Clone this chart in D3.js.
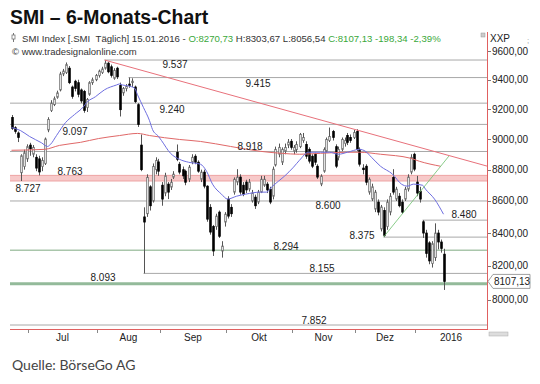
<!DOCTYPE html>
<html>
<head>
<meta charset="utf-8">
<script src="https://cdnjs.cloudflare.com/ajax/libs/d3/7.8.5/d3.min.js"></script>
<style>
body { margin:0; background:#fff; }
svg { font-family: Arial, "Liberation Sans", sans-serif; }
</style>
</head>
<body>
<svg width="540" height="384"></svg>
<script>
// daily SMI candles 23.06.2015 - 15.01.2016 (index 0..144)
var opens = [9143,9075,9040,8780,8820,8870,8960,8900,8880,8870,8820,8840,9060,9190,9230,9280,9330,9440,9450,9480,
  9350,9390,9380,9330,9320,9210,9300,9380,9400,9430,9450,9480,9515,9490,9410,9480,9360,9310,9340,9370,
  9380,9350,9230,8960,8500,8520,8690,8600,8800,8850,8700,8650,8707,8688,8752,8913,8835,8800,8790,8738,
  8848,8887,8848,8738,8784,8694,8560,8440,8440,8530,8290,8468,8612,8560,8656,8720,8752,8700,8720,8675,
  8600,8624,8593,8656,8700,8707,8675,8630,8830,8900,8848,8920,8960,8985,8920,8930,8950,8990,8964,8932,
  8887,8900,8822,8707,8790,8920,8990,9050,8950,8880,8932,8970,9023,9010,9010,9050,8932,8810,8822,8656,
  8612,8549,8593,8425,8540,8440,8530,8750,8612,8630,8593,8612,8675,8784,8900,8720,8660,8470,8400,8340,
  8215,8250,8400,8345,8270.73]
var highs = [9160,9085,9050,8900,8930,8965,8975,8960,8900,8890,8880,9010,9145,9260,9285,9325,9455,9475,9520,9495,
  9360,9400,9400,9340,9330,9275,9390,9415,9440,9470,9490,9537,9525,9505,9480,9490,9380,9350,9370,9415,
  9410,9360,9240,9030,8560,8770,8700,8840,8880,8870,8720,8780,8720,8740,8790,8964,8850,8820,8800,8830,
  8900,8900,8860,8800,8800,8700,8580,8450,8520,8540,8350,8530,8630,8580,8750,8803,8770,8720,8735,8740,
  8670,8640,8670,8760,8760,8720,8690,8820,8950,8970,8945,8970,9000,9000,8960,8985,9040,9040,8985,8945,
  8900,8910,8835,8770,8945,9010,9076,9060,8965,8950,9010,9010,9040,9030,9060,9065,8945,8835,8835,8750,
  8710,8670,8610,8575,8560,8610,8650,8803,8690,8650,8610,8690,8770,8900,8910,8760,8690,8480,8420,8350,
  8350,8460,8420,8360,8303.67]
var lows = [9060,9035,8980,8727,8800,8850,8890,8880,8790,8763,8790,8830,9045,9180,9220,9270,9320,9425,9440,9370,
  9270,9320,9280,9240,9175,9180,9290,9365,9390,9415,9440,9470,9445,9415,9400,9405,9150,9290,9320,9345,
  9350,9240,9080,8790,8155,8500,8540,8590,8770,8760,8570,8630,8612,8670,8740,8855,8770,8740,8700,8720,
  8835,8835,8780,8720,8680,8470,8390,8260,8420,8370,8250,8440,8490,8500,8640,8700,8640,8630,8650,8660,
  8590,8550,8580,8650,8690,8650,8580,8610,8820,8880,8830,8900,8940,8930,8900,8910,8940,8975,8870,8840,
  8810,8830,8740,8694,8780,8910,8980,8990,8810,8860,8920,8950,8960,8975,9000,8920,8820,8770,8700,8640,
  8600,8530,8510,8410,8375,8420,8510,8640,8600,8560,8520,8600,8660,8770,8790,8630,8590,8370,8250,8210,
  8190,8230,8300,8280,8056.54]
var closes = [9070,9050,9010,8890,8910,8950,8935,8945,8810,8785,8860,9000,9130,9240,9270,9310,9440,9460,9505,9380,
  9285,9340,9300,9255,9190,9265,9380,9400,9430,9460,9475,9515,9455,9430,9465,9420,9196,9340,9355,9360,
  9390,9250,9096,8800,8468,8750,8570,8820,8860,8790,8612,8760,8656,8719,8771,8867,8784,8760,8719,8816,
  8880,8848,8790,8784,8694,8486,8406,8290,8505,8380,8320,8517,8505,8520,8738,8752,8656,8643,8670,8720,
  8650,8570,8656,8738,8738,8670,8593,8803,8932,8945,8932,8945,8980,8945,8945,8964,9030,9010,8887,8855,
  8822,8848,8752,8758,8932,8997,9017,9010,8822,8932,8997,8990,8978,8990,9043,8932,8835,8800,8719,8738,
  8690,8656,8530,8562,8385,8593,8630,8656,8675,8570,8530,8675,8752,8880,8803,8650,8612,8400,8275,8230,
  8335,8400,8345,8305.47,8107.13]

// x axis: first trading day of each month
var monthLabels = ["Jul", "Aug", "Sep", "Okt", "Nov", "Dez", "2016"]
var monthStart = [6, 29, 50, 72, 94, 115, 135]
var yTicks = [8000, 8200, 8400, 8600, 8800, 9000, 9200, 9400, 9600]

// moving averages [index, value]
var maShort = [[0,9076],[3,9056],[6,9017],[10,8975],[12,8951],[13,8965],[15,9023],[18,9109],[21,9163],[24,9216],
  [25,9243],[28,9284],[31,9331],[35,9364],[36,9371],[37,9364],[39,9357],[41,9343],[42,9297],[44,9210],
  [46,9122],[47,9063],[49,9017],[50,8990],[53,8906],[56,8867],[59,8848],[63,8835],[65,8790],[67,8707],
  [70,8643],[72,8612],[75,8630],[78,8643],[83,8656],[85,8656],[87,8694],[91,8758],[94,8816],[96,8861],
  [99,8913],[103,8913],[106,8913],[109,8900],[112,8913],[116,8932],[118,8919],[120,8880],[123,8822],[127,8771],
  [130,8707],[132,8694],[134,8707],[137,8700],[138,8675],[141,8612],[144,8517]]
var maLong = [[0,8926],[11,8932],[16,8958],[23,8978],[29,9003],[36,9023],[42,9037],[46,9023],[56,8997],[63,8984],
  [73,8951],[83,8919],[90,8906],[96,8900],[103,8906],[112,8913],[116,8913],[123,8900],[133,8874],[136,8854],[143,8822]]

// support / resistance lines
var levels = [9537, 9415, 9240, 9097, 8918, 8600, 8480, 8375, 8294, 8155, 8093, 7852]
var levelFrom = [31, 39, -0.5, -0.5, -0.5, -0.5, 137, 124, -0.5, 44, -0.5, -0.5]
var levelText = ["9.537", "9.415", "9.240", "9.097", "8.918", "8.600", "8.480", "8.375", "8.294", "8.155", "8.093", "7.852"]
var zone = [8727, 8763]
var zoneText = ["8.727", "8.763"]
var trendDown = [[31, 9537], [158.5, 8823]]
var trendUp = [[124, 8375], [145.8, 8888]]

var quote = {name:"SMI Index [.SMI\u00a0\u00a0T\u00e4glich]", date:"15.01.2016", o:"8270,73", h:"8303,67", l:"8056,54", c:"8107,13", chg:"-198,34", pct:"-2,39%"}

// label placement (pixel x center, offset from line)
var levelLabelPos = [[175, 8], [258, 9.5], [172, 10], [75, 10.5], [250, -1.5], [328, 8.5], [464, -2], [362, 1.5], [286, 0], [322, -1.5], [103, -2.5], [314, -1]]
var zoneLabelPos = [[28, 11], [70, 0]]

var green = "#3aa83a"
var svg = d3.select("svg")

var x = d3.scaleLinear().domain([-0.5, 158.5]).range([10, 487])
var y = d3.scaleLog().domain([7829, 9728]).range([329, 33])

// header
svg.append("text").attr("x", 10).attr("y", 23.5)
    .attr("font-size", 19.4).attr("font-weight", "bold").attr("fill", "#111")
    .text("SMI \u2013 6-Monats-Chart")

svg.append("line").attr("x1", 13.5).attr("x2", 13.5).attr("y1", 33).attr("y2", 42).attr("stroke", "#777")
svg.append("rect").attr("x", 12).attr("y", 35).attr("width", 3).attr("height", 4).attr("fill", "#fff").attr("stroke", "#777").attr("stroke-width", 0.8)

var info = svg.append("text").attr("x", 22).attr("y", 41.5).attr("font-size", 9.6).attr("fill", "#333")
info.append("tspan").text(quote.name + " " + quote.date + " - ")
info.append("tspan").attr("fill", green).text("O:" + quote.o)
info.append("tspan").text(" H:" + quote.h + " L:" + quote.l + " ")
info.append("tspan").attr("fill", green).text("C:" + quote.c + " " + quote.chg + " " + quote.pct)

svg.append("text").attr("x", 12).attr("y", 55).attr("font-size", 9.5).attr("fill", "#333")
    .text("\u00a9 www.tradesignalonline.com")

var plot = svg.append("g").attr("id", "plot")

// pink zone
plot.append("rect")
    .attr("x", x(-0.5)).attr("width", x(158.5) - x(-0.5))
    .attr("y", y(zone[1])).attr("height", y(zone[0]) - y(zone[1]))
    .attr("fill", "#f7c9c9")
plot.selectAll(".zoneEdge").data(zone).enter().append("line")
    .attr("x1", x(-0.5)).attr("x2", x(158.5))
    .attr("y1", function(d) { return y(d) }).attr("y2", function(d) { return y(d) })
    .attr("stroke", "#eda3a3").attr("stroke-width", 1)

// horizontal levels
plot.selectAll(".level").data(levels).enter().append("line")
    .attr("x1", function(d, i) { return x(levelFrom[i]) })
    .attr("x2", x(158.5))
    .attr("y1", function(d) { return y(d) })
    .attr("y2", function(d) { return y(d) })
    .attr("stroke", function(d) { return d == 8093 ? "#93ba9a" : d == 8294 ? "#a9c6ab" : "#a8a8a8" })
    .attr("stroke-width", function(d) { return d == 8093 ? 3 : d == 8294 ? 1.5 : 1 })

// candles
var idx = d3.range(closes.length)
var candles = plot.append("g").attr("id", "candles")
candles.selectAll(".wick").data(idx).enter().append("line")
    .attr("x1", function(i) { return Math.round(x(i)) + 0.5 })
    .attr("x2", function(i) { return Math.round(x(i)) + 0.5 })
    .attr("y1", function(i) { return y(highs[i]) })
    .attr("y2", function(i) { return y(lows[i]) })
    .attr("stroke", "#555").attr("stroke-width", 1)
candles.selectAll(".body").data(idx).enter().append("rect")
    .attr("x", function(i) { return Math.round(x(i)) - 0.3 })
    .attr("width", 1.6)
    .attr("y", function(i) { return y(Math.max(opens[i], closes[i])) })
    .attr("height", function(i) { return Math.max(1, y(Math.min(opens[i], closes[i])) - y(Math.max(opens[i], closes[i]))) })
    .attr("fill", function(i) { return closes[i] < opens[i] ? "#000" : "#fff" })
    .attr("stroke", function(i) { return closes[i] < opens[i] ? "#000" : "#666" })
    .attr("stroke-width", 0.8)

// moving averages
var maLine = d3.line().x(function(d) { return x(d[0]) }).y(function(d) { return y(d[1]) }).curve(d3.curveMonotoneX)
plot.append("path").datum(maLong).attr("d", maLine).attr("fill", "none").attr("stroke", "#e06868").attr("stroke-width", 1)
plot.append("path").datum(maShort).attr("d", maLine).attr("fill", "none").attr("stroke", "#6f6fe0").attr("stroke-width", 1)

// trend lines
var straight = d3.line().x(function(d) { return x(d[0]) }).y(function(d) { return y(d[1]) })
plot.append("path").datum(trendDown).attr("d", straight).attr("stroke", "#e8717b").attr("stroke-width", 1).attr("fill", "none")
plot.append("path").datum(trendUp).attr("d", straight).attr("stroke", "#6cbf6c").attr("stroke-width", 0.8).attr("fill", "none")

// level labels
plot.selectAll(".lvlText").data(levels).enter().append("text")
    .attr("x", function(d, i) { return levelLabelPos[i][0] })
    .attr("y", function(d, i) { return y(d) + levelLabelPos[i][1] })
    .attr("text-anchor", "middle").attr("font-size", 10).attr("fill", "#222")
    .text(function(d, i) { return levelText[i] })
plot.selectAll(".zoneText").data(zone).enter().append("text")
    .attr("x", function(d, i) { return zoneLabelPos[i][0] })
    .attr("y", function(d, i) { return y(d) + zoneLabelPos[i][1] })
    .attr("text-anchor", "middle").attr("font-size", 10).attr("fill", "#222")
    .text(function(d, i) { return zoneText[i] })

// axes (red frame lines)
svg.append("line").attr("x1", 487.5).attr("x2", 487.5).attr("y1", 32).attr("y2", 330).attr("stroke", "#e06060")
svg.append("line").attr("x1", 10).attr("x2", 487.5).attr("y1", 329.5).attr("y2", 329.5).attr("stroke", "#e06060")

var yAx = svg.append("g").attr("id", "yAxis")
yAx.selectAll("line").data(yTicks).enter().append("line")
    .attr("x1", 488).attr("x2", 491)
    .attr("y1", function(d) { return Math.round(y(d)) + 0.5 }).attr("y2", function(d) { return Math.round(y(d)) + 0.5 })
    .attr("stroke", "#777")
yAx.selectAll("text").data(yTicks).enter().append("text")
    .attr("x", 492).attr("y", function(d) { return y(d) + 3.5 })
    .attr("font-size", 10).attr("fill", "#222")
    .text(function(d) { return d + ",00" })

svg.append("text").attr("x", 490).attr("y", 41.5).attr("font-size", 10).attr("fill", "#222").text("XXP")
svg.append("text").attr("x", 527).attr("y", 43).attr("font-size", 8).attr("fill", "#999").text(";")
svg.append("rect").attr("x", 481).attr("y", 33).attr("width", 4).attr("height", 4).attr("fill", "#ccc").attr("stroke", "#999").attr("stroke-width", 0.5)

// last price tag
var last = closes[closes.length - 1]
var ly = y(last)
svg.append("path")
    .attr("d", "M488," + ly + " L493," + (ly - 7) + " L530," + (ly - 7) + " L530," + (ly + 7) + " L493," + (ly + 7) + " Z")
    .attr("fill", "#fff").attr("stroke", "#888").attr("stroke-width", 0.8)
svg.append("text").attr("x", 494).attr("y", ly + 3.5).attr("font-size", 10).attr("fill", "#222").text(quote.c)

// month ticks and labels
var xAx = svg.append("g").attr("id", "xAxis")
xAx.selectAll("line").data(monthStart).enter().append("line")
    .attr("x1", function(d) { return Math.round(x(d - 0.5)) + 0.5 })
    .attr("x2", function(d) { return Math.round(x(d - 0.5)) + 0.5 })
    .attr("y1", 330).attr("y2", 333).attr("stroke", "#888")
xAx.selectAll("text").data(monthStart).enter().append("text")
    .attr("x", function(d, i) {
        var end = i < monthStart.length - 1 ? x(monthStart[i + 1] - 0.5) : x(158.5)
        return (x(d - 0.5) + end) / 2
    })
    .attr("y", 341).attr("text-anchor", "middle").attr("font-size", 10).attr("fill", "#222")
    .text(function(d, i) { return monthLabels[i] })

svg.append("rect").attr("x", 489).attr("y", 332).attr("width", 19).attr("height", 4).attr("fill", "#ddd").attr("stroke", "#aaa").attr("stroke-width", 0.5)

// source
svg.append("text").attr("x", 12).attr("y", 370).attr("font-family", "Lato, sans-serif").attr("font-size", 14).attr("fill", "#444")
    .text("Quelle: B\u00f6rseGo AG")
</script>
</body>
</html>
